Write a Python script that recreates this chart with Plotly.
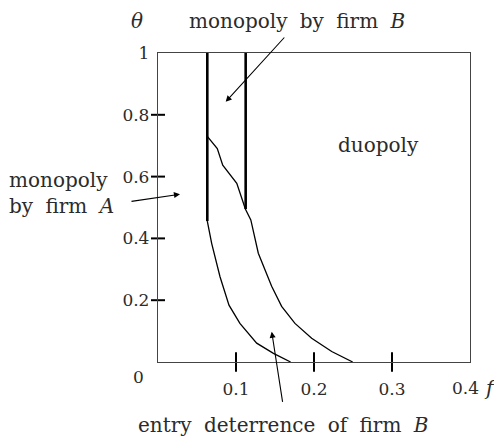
import plotly.graph_objects as go

# boundary between monopoly-by-A and entry deterrence (lower curve)
lower_f = [0.0632, 0.0688, 0.0795, 0.091, 0.105, 0.1265, 0.148, 0.170]
lower_theta = [0.456, 0.384, 0.276, 0.184, 0.125, 0.061, 0.028, 0.0]

# boundary between entry deterrence and duopoly (upper curve)
upper_f = [0.0632, 0.076, 0.083, 0.101, 0.112, 0.119, 0.1286, 0.1457, 0.1585,
           0.1756, 0.197, 0.2227, 0.2496]
upper_theta = [0.73, 0.691, 0.637, 0.578, 0.495, 0.46, 0.352, 0.245, 0.18,
               0.125, 0.077, 0.034, 0.0]

# thick vertical boundaries (monopoly by B region)
left_wall_f = [0.0632, 0.0632]
left_wall_theta = [0.456, 1.0]
right_wall_f = [0.1124, 0.1124]
right_wall_theta = [0.495, 1.0]

x_ticks = [0.1, 0.2, 0.3]
x_tick_labels = ["0.1", "0.2", "0.3"]
y_ticks = [0.2, 0.4, 0.6, 0.8]
y_tick_labels = ["0.2", "0.4", "0.6", "0.8", "1"]

SERIF = "DejaVu Serif"
TXT = "#2b2b2b"
SP = " \u2009\u200a"  # TeX-like wide word spacing

fig = go.Figure()

for fx, fy, w in [(left_wall_f, left_wall_theta, 2.6),
                  (right_wall_f, right_wall_theta, 2.6),
                  (lower_f, lower_theta, 1.3),
                  (upper_f, upper_theta, 1.3)]:
    fig.add_trace(go.Scatter(x=fx, y=fy, mode="lines",
                             line=dict(color="black", width=w),
                             showlegend=False, hoverinfo="skip"))

# tick marks that cross the axis lines
fig.add_trace(go.Scatter(x=x_ticks, y=[0] * len(x_ticks), mode="markers",
                         marker=dict(symbol="line-ns", size=14,
                                     line=dict(color="black", width=2)),
                         cliponaxis=False, showlegend=False, hoverinfo="skip"))
fig.add_trace(go.Scatter(x=[0] * len(y_ticks), y=y_ticks, mode="markers",
                         marker=dict(symbol="line-ew", size=10,
                                     line=dict(color="black", width=2)),
                         cliponaxis=False, showlegend=False, hoverinfo="skip"))

fig.update_xaxes(range=[0, 0.4], showgrid=False, zeroline=False,
                 showline=True, linecolor="#444", linewidth=1.3, mirror=True,
                 tickvals=x_ticks, ticktext=x_tick_labels, ticks="",
                 ticklabelstandoff=11,
                 tickfont=dict(family=SERIF, size=17, color=TXT))
fig.update_yaxes(range=[0, 1], showgrid=False, zeroline=False,
                 showline=True, linecolor="#444", linewidth=1.3, mirror=True,
                 tickvals=y_ticks + [1.0], ticktext=y_tick_labels, ticks="",
                 ticklabelstandoff=4,
                 tickfont=dict(family=SERIF, size=17, color=TXT))

font = dict(family=SERIF, size=20, color=TXT)
tick_font = dict(family=SERIF, size=17, color=TXT)
ann = [
    dict(x=-0.064, y=-0.049, text="0", font=tick_font),
    dict(x=0.985, y=-0.085, text="0.4", font=tick_font),
    dict(x=1.066, y=-0.085, text="<i>f</i>", font=font),
    dict(x=-0.068, y=1.104, text="<i>θ</i>", font=font),
    dict(x=0.4455, y=1.104, text="monopoly" + SP + "by" + SP + "firm" + SP + "<i>B</i>", font=font),
    dict(x=0.706, y=0.702, text="duopoly", font=font),
    dict(x=-0.484, y=0.547, text="monopoly<br>by" + SP + "firm" + SP + "<i>A</i>",
         xanchor="left", align="left", font=font),
    dict(x=0.4006, y=-0.204, text="entry" + SP + "deterrence" + SP + "of" + SP + "firm" + SP + "<i>B</i>",
         font=font),
]
for a in ann:
    a.setdefault("xanchor", "center")
    a.update(xref="paper", yref="paper", yanchor="middle", showarrow=False)
    fig.add_annotation(**a)

# arrows: (tail_f, tail_theta, tip_f, tip_theta)
arrows = [
    (0.1637, 1.055, 0.0868, 0.842),
    (-0.0359, 0.519, 0.0282, 0.543),
    (0.160, -0.134, 0.1458, 0.098),
]
for tf, tt, hf, ht in arrows:
    fig.add_annotation(x=hf, y=ht, ax=tf, ay=tt, xref="x", yref="y",
                       axref="x", ayref="y", text="", showarrow=True,
                       arrowhead=2, arrowsize=1.1, arrowwidth=1.1,
                       arrowcolor="black")

# the page body adds an 8px offset, so the figure is sized to fit inside it
fig.update_layout(width=494, height=429, plot_bgcolor="white",
                  paper_bgcolor="white",
                  margin=dict(l=150, r=32, t=45, b=75))

fig.write_html("out.html")
